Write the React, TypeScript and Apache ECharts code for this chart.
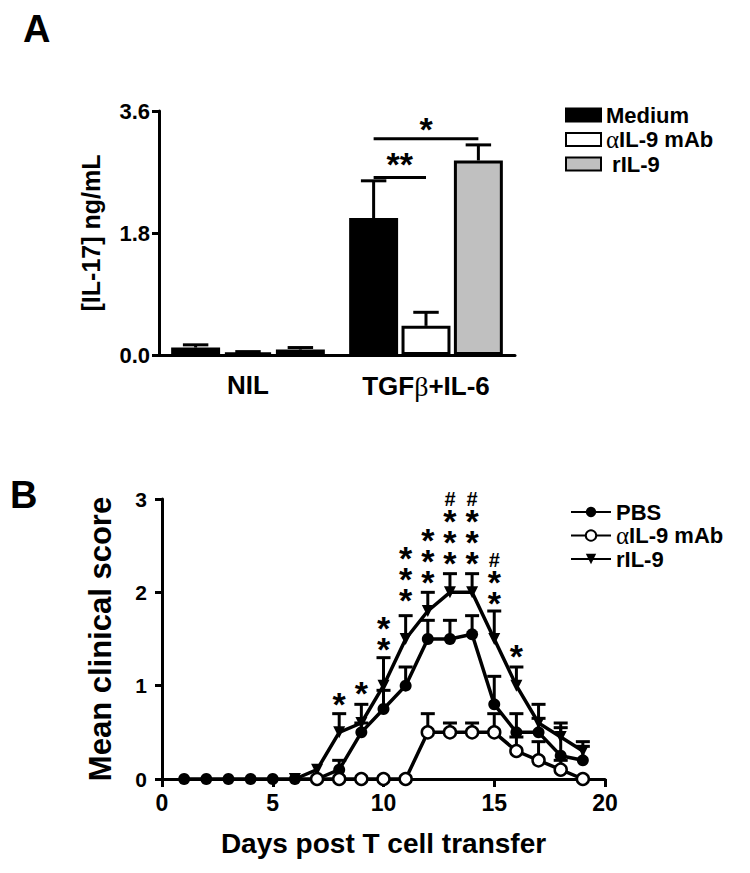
import React, { useEffect, useRef } from 'react';
import * as echarts from 'echarts';

const FONT = "'Liberation Sans', Arial, Helvetica, sans-serif";
const SERIF = "'Liberation Serif', 'Times New Roman', serif";

// ---------- Panel A ----------
const categoriesA = ['NIL', 'TGFβ+IL-6'];
const namesA = ['Medium', 'αIL-9 mAb', 'rIL-9'];
const mediumMean = [0.11, 2.02];
const mediumErr = [0.04, 0.55];
const antiMean = [0.04, 0.43];
const antiErr = [0.01, 0.2];
const rilMean = [0.08, 2.87];
const rilErr = [0.03, 0.23];
const barColorsA = ['#000000', '#ffffff', '#c0c0c0'];
// significance brackets in TGFβ+IL-6 group: from series index -> to series index
const sigCategory = [1, 1];
const sigFrom = [0, 0];
const sigTo = [1, 2];
const sigLevel = [2.62, 3.19];
const sigTextLevel = [2.93, 3.45];
const sigText = ['**', '*'];

// ---------- Panel B ----------
const days = [1, 2, 3, 4, 5, 6, 7, 8, 9, 10, 11, 12, 13, 14, 15, 16, 17, 18, 19];
const pbsMean = [0, 0, 0, 0, 0, 0, 0, 0.1, 0.5, 0.75, 1.0, 1.5, 1.5, 1.55, 0.8, 0.5, 0.5, 0.25, 0.2];
const pbsErr = [0, 0, 0, 0, 0, 0, 0, 0.1, 0.1, 0.2, 0.2, 0.2, 0.2, 0.2, 0.3, 0.2, 0.15, 0.3, 0.15];
const antiBMean = [null, null, null, null, null, null, 0, 0, 0, 0, 0, 0.5, 0.5, 0.5, 0.5, 0.3, 0.2, 0.1, 0];
const antiBErr = [0, 0, 0, 0, 0, 0, 0, 0, 0, 0, 0, 0.2, 0.1, 0.1, 0.2, 0.15, 0.2, 0.1, 0];
const rilBMean = [null, null, null, null, null, 0, 0.1, 0.5, 0.6, 1.0, 1.5, 1.8, 2.0, 2.0, 1.5, 1.0, 0.6, 0.45, 0.3];
const rilBErr = [0, 0, 0, 0, 0, 0, 0, 0.2, 0.2, 0.3, 0.25, 0.2, 0.2, 0.2, 0.3, 0.2, 0.2, 0.15, 0.1];
// significance marks: day, level of lowest star, number of stars, number of '#'
const annDays = [8, 9, 10, 11, 12, 13, 14, 15, 16];
const annLevels = [0.88, 1.0, 1.47, 2.0, 2.19, 2.4, 2.4, 1.97, 1.4];
const annStars = [1, 1, 2, 3, 3, 3, 3, 2, 1];
const annHashes = [0, 0, 0, 0, 0, 1, 1, 1, 0];

const legendLabels: Record<string, string> = {
  Medium: 'Medium',
  'αIL-9 mAb': '{g|α}IL-9 mAb',
  'rIL-9': ' rIL-9',
  PBS: 'PBS',
  antiB: '{g|α}IL-9 mAb',
  rilB: 'rIL-9',
};

const BAR_FRAC = 0.275;
const GAP_FRAC = 0.07;

function barOffset(band: number, si: number) {
  const bw = band * BAR_FRAC;
  return (si - 1) * bw * (1 + GAP_FRAC);
}

const black = '#000';
const axisBase = {
  axisLine: { show: true, lineStyle: { color: black, width: 3 } },
  splitLine: { show: false },
};

function buildOption() {
  const meansA = [mediumMean, antiMean, rilMean];
  const errsA = [mediumErr, antiErr, rilErr];
  const errDataA: number[][] = [];
  meansA.forEach((m, si) => m.forEach((v, ci) => errDataA.push([ci, v, errsA[si][ci], si])));

  const sigData = sigLevel.map((lv, i) => [sigCategory[i], lv, sigFrom[i], sigTo[i], sigTextLevel[i]]);

  const groupsB = [
    { mean: pbsMean, err: pbsErr },
    { mean: antiBMean, err: antiBErr },
    { mean: rilBMean, err: rilBErr },
  ];
  const errDataB: number[][] = [];
  groupsB.forEach((g) =>
    g.mean.forEach((v, i) => {
      if (v !== null && g.err[i] > 0) errDataB.push([days[i], v as number, g.err[i]]);
    })
  );
  const annData = annDays.map((d, i) => [d, annLevels[i], annStars[i], annHashes[i]]);

  const boldText = { fontFamily: FONT, fontWeight: 'bold' as const, color: black };
  const legendText = {
    ...boldText,
    fontSize: 22,
    lineHeight: 20,
    rich: { g: { fontFamily: SERIF, fontWeight: 'normal', fontSize: 25, lineHeight: 20, color: black } },
  };

  return {
    animation: false,
    backgroundColor: '#fff',
    graphic: [
      { type: 'text', left: 23, top: 10, style: { text: 'A', font: `bold 38px ${FONT}`, fill: black } },
      { type: 'text', left: 10, top: 476, style: { text: 'B', font: `bold 38px ${FONT}`, fill: black } },
    ],
    legend: [
      {
        orient: 'vertical',
        left: 560,
        top: 99,
        itemWidth: 35,
        itemHeight: 13,
        itemGap: 1,
        icon: 'rect',
        data: namesA,
        formatter: (n: string) => legendLabels[n] || n,
        textStyle: legendText,
      },
      {
        orient: 'vertical',
        left: 565,
        top: 496,
        itemWidth: 40,
        itemHeight: 13,
        itemGap: 0,
        data: ['PBS', 'antiB', 'rilB'],
        formatter: (n: string) => legendLabels[n] || n,
        textStyle: legendText,
      },
    ],
    grid: [
      { left: 159, top: 111, width: 356, height: 244 },
      { left: 162, top: 499, width: 443, height: 280 },
    ],
    xAxis: [
      {
        gridIndex: 0,
        type: 'category',
        data: categoriesA,
        ...axisBase,
        axisTick: { show: false },
        axisLabel: {
          ...boldText,
          fontSize: 26,
          margin: 17,
          interval: 0,
          formatter: (v: string) => v.replace('β', '{g|β}'),
          rich: { g: { fontFamily: SERIF, fontWeight: 'normal', fontSize: 28, color: black } },
        },
      },
      {
        gridIndex: 1,
        type: 'value',
        min: 0,
        max: 20,
        interval: 5,
        ...axisBase,
        axisTick: { show: true, length: 8, lineStyle: { color: black, width: 3 } },
        axisLabel: { ...boldText, fontSize: 23, margin: 12 },
        name: 'Days post T cell transfer',
        nameLocation: 'middle',
        nameGap: 50,
        nameTextStyle: { ...boldText, fontSize: 28 },
      },
    ],
    yAxis: [
      {
        gridIndex: 0,
        type: 'value',
        min: 0,
        max: 3.6,
        interval: 1.8,
        ...axisBase,
        axisTick: { show: true, length: 7, lineStyle: { color: black, width: 3 } },
        axisLabel: { ...boldText, fontSize: 22, margin: 9, formatter: (v: number) => v.toFixed(1) },
        name: '[IL-17] ng/mL',
        nameLocation: 'middle',
        nameGap: 56,
        nameRotate: 90,
        nameTextStyle: { ...boldText, fontSize: 25 },
      },
      {
        gridIndex: 1,
        type: 'value',
        min: 0,
        max: 3,
        interval: 1,
        ...axisBase,
        axisTick: { show: true, length: 7, lineStyle: { color: black, width: 3 } },
        axisLabel: { ...boldText, fontSize: 21, margin: 15 },
        name: 'Mean clinical score',
        nameLocation: 'middle',
        nameGap: 46,
        nameRotate: 90,
        nameTextStyle: { ...boldText, fontSize: 31 },
      },
    ],
    series: [
      ...namesA.map((name, si) => ({
        type: 'bar',
        name,
        xAxisIndex: 0,
        yAxisIndex: 0,
        data: meansA[si],
        barWidth: BAR_FRAC * 100 + '%',
        barGap: GAP_FRAC * 100 + '%',
        itemStyle: { color: barColorsA[si], borderColor: black, borderWidth: 3 },
        z: 3,
      })),
      {
        type: 'custom',
        name: 'errA',
        xAxisIndex: 0,
        yAxisIndex: 0,
        data: errDataA,
        encode: { x: 0, y: 1 },
        z: 2,
        renderItem: (params: any, api: any) => {
          const ci = api.value(0);
          const m = api.value(1);
          const e = api.value(2);
          const si = api.value(3);
          const band = api.size([1, 0])[0];
          const bw = band * BAR_FRAC;
          const off = barOffset(band, si);
          const p0 = api.coord([ci, m]);
          const p1 = api.coord([ci, m + e]);
          const x = p0[0] + off;
          const half = bw * 0.26;
          const st = { stroke: black, lineWidth: 3 };
          return {
            type: 'group',
            children: [
              { type: 'line', shape: { x1: x, y1: p0[1], x2: x, y2: p1[1] }, style: st },
              { type: 'line', shape: { x1: x - half, y1: p1[1], x2: x + half, y2: p1[1] }, style: st },
            ],
          };
        },
      },
      {
        type: 'custom',
        name: 'sigA',
        xAxisIndex: 0,
        yAxisIndex: 0,
        data: sigData,
        encode: { x: 0, y: 1 },
        z: 4,
        renderItem: (params: any, api: any) => {
          const ci = api.value(0);
          const lv = api.value(1);
          const f = api.value(2);
          const t = api.value(3);
          const tl = api.value(4);
          const band = api.size([1, 0])[0];
          const p = api.coord([ci, lv]);
          const pt = api.coord([ci, tl]);
          const x1 = p[0] + barOffset(band, f);
          const x2 = p[0] + barOffset(band, t);
          return {
            type: 'group',
            children: [
              { type: 'line', shape: { x1, y1: p[1], x2, y2: p[1] }, style: { stroke: black, lineWidth: 3 } },
              {
                type: 'text',
                x: (x1 + x2) / 2,
                y: pt[1] + 8,
                style: {
                  text: sigText[params.dataIndex],
                  font: `bold 34px ${FONT}`,
                  fill: black,
                  align: 'center',
                  verticalAlign: 'middle',
                },
              },
            ],
          };
        },
      },
      {
        type: 'custom',
        name: 'errB',
        xAxisIndex: 1,
        yAxisIndex: 1,
        data: errDataB,
        encode: { x: 0, y: 1 },
        z: 2,
        renderItem: (params: any, api: any) => {
          const d = api.value(0);
          const m = api.value(1);
          const e = api.value(2);
          const p0 = api.coord([d, m]);
          const p1 = api.coord([d, m + e]);
          const st = { stroke: black, lineWidth: 3 };
          return {
            type: 'group',
            children: [
              { type: 'line', shape: { x1: p0[0], y1: p0[1], x2: p1[0], y2: p1[1] }, style: st },
              { type: 'line', shape: { x1: p1[0] - 7, y1: p1[1], x2: p1[0] + 7, y2: p1[1] }, style: st },
            ],
          };
        },
      },
      {
        type: 'line',
        name: 'rilB',
        xAxisIndex: 1,
        yAxisIndex: 1,
        data: days.map((d, i) => [d, rilBMean[i]]),
        symbol: 'triangle',
        symbolRotate: 180,
        symbolSize: 12,
        showSymbol: true,
        lineStyle: { color: black, width: 3.5 },
        itemStyle: { color: black },
        z: 4,
      },
      {
        type: 'line',
        name: 'PBS',
        xAxisIndex: 1,
        yAxisIndex: 1,
        data: days.map((d, i) => [d, pbsMean[i]]),
        symbol: 'circle',
        symbolSize: 12,
        showSymbol: true,
        lineStyle: { color: black, width: 3.5 },
        itemStyle: { color: black },
        z: 5,
      },
      {
        type: 'line',
        name: 'antiB',
        xAxisIndex: 1,
        yAxisIndex: 1,
        data: days.map((d, i) => [d, antiBMean[i]]),
        symbol: 'circle',
        symbolSize: 12,
        showSymbol: true,
        lineStyle: { color: black, width: 3.5 },
        itemStyle: { color: '#fff', borderColor: black, borderWidth: 2.5 },
        z: 6,
      },
      {
        type: 'custom',
        name: 'annB',
        xAxisIndex: 1,
        yAxisIndex: 1,
        data: annData,
        encode: { x: 0, y: 1 },
        z: 10,
        renderItem: (params: any, api: any) => {
          const p = api.coord([api.value(0), api.value(1)]);
          const nStars = api.value(2);
          const nHash = api.value(3);
          const lines: string[] = [];
          for (let k = 0; k < nHash; k++) lines.push('{h|#}');
          for (let k = 0; k < nStars; k++) lines.push('{s|*}');
          return {
            type: 'text',
            x: p[0],
            y: p[1] + 18,
            style: {
              text: lines.join('\n'),
              fill: black,
              align: 'center',
              verticalAlign: 'bottom',
              rich: {
                s: { font: `bold 34px ${FONT}`, lineHeight: 21, fill: black },
                h: { font: `bold 20px ${FONT}`, lineHeight: 23, fill: black },
              },
            },
          };
        },
      },
    ],
  };
}

export default function App() {
  const ref = useRef<HTMLDivElement>(null);
  useEffect(() => {
    const chart = echarts.init(ref.current as HTMLDivElement, null, { renderer: 'svg' });
    chart.setOption(buildOption() as any);
    return () => chart.dispose();
  }, []);
  return (
    <div
      ref={ref}
      style={{ position: 'absolute', left: 0, top: 0, width: 750, height: 873, background: '#fff' }}
    />
  );
}
